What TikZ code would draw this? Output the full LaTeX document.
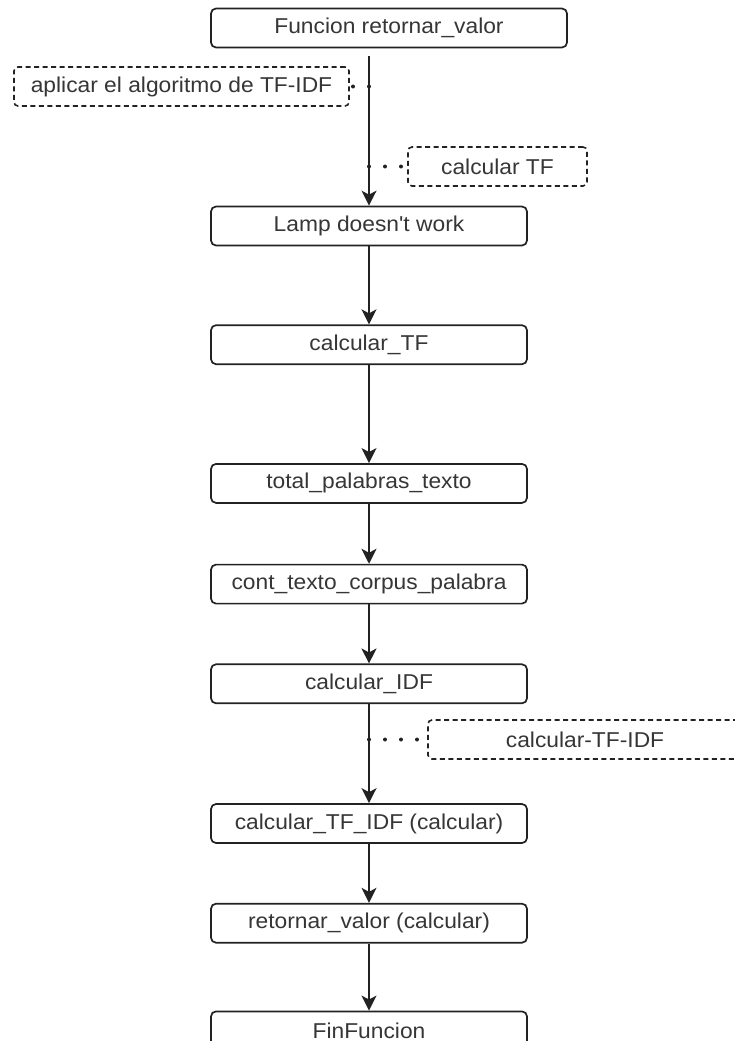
\documentclass[tikz,border=0pt]{standalone}
\usepackage{fontspec}
\newfontfamily\diafont[FakeStretch=1.06]{Liberation Sans}
\usepackage{xcolor}
\usepackage{tikz}
\usetikzlibrary{arrows.meta, positioning}
\definecolor{inkline}{HTML}{222222}
\definecolor{inktext}{HTML}{363636}
\tikzset{
  stepbox/.style={
    draw=inkline, rounded corners=5pt, line width=1.7pt, align=center,
    font=\diafont\fontsize{21.5}{25}\selectfont, text=inktext, fill=white,
    minimum width=316pt, minimum height=39pt, inner sep=2pt
  },
  notebox/.style={
    draw=inkline, rounded corners=4pt, line width=1.6pt,
    dash pattern=on 5pt off 3.5pt, align=center,
    font=\diafont\fontsize{21.5}{25}\selectfont, text=inktext, fill=white,
    minimum height=39pt, inner sep=2pt
  },
  flowarrow/.style={
    -{Stealth[length=15pt, width=15pt, inset=4pt]}, line width=1.7pt, color=inkline
  },
  noteline/.style={
    line width=4pt, line cap=round, dash pattern=on 0pt off 16pt, color=inkline
  },
}
\begin{document}
\begin{tikzpicture}[x=1pt, y=-1pt]
  \useasboundingbox (0,0) rectangle (734,1041);

  % ── Main flow ──
  \node[stepbox, minimum width=356pt] (inicio) at (389, 28) {Funcion retornar\_valor};

  \node[stepbox] (lamp) at (369, 226) {Lamp doesn't work};
  \node[stepbox, below=78pt of lamp] (calctf) {calcular\_TF};
  \node[stepbox, below=98pt of calctf] (totalpal) {total\_palabras\_texto};
  \node[stepbox, below=60pt of totalpal] (contcorpus) {cont\_texto\_corpus\_palabra};
  \node[stepbox, below=59pt of contcorpus] (calcidf) {calcular\_IDF};
  \node[stepbox, below=99pt of calcidf] (calctfidf) {calcular\_TF\_IDF (calcular)};
  \node[stepbox, below=59pt of calctfidf] (retvalor) {retornar\_valor (calcular)};
  \node[stepbox, below=67pt of retvalor] (fin) {FinFuncion};

  \draw[flowarrow, shorten <=8pt] (lamp.north |- inicio.south) -- (lamp.north);
  \draw[flowarrow] (lamp) -- (calctf);
  \draw[flowarrow] (calctf) -- (totalpal);
  \draw[flowarrow] (totalpal) -- (contcorpus);
  \draw[flowarrow] (contcorpus) -- (calcidf);
  \draw[flowarrow] (calcidf) -- (calctfidf);
  \draw[flowarrow] (calctfidf) -- (retvalor);
  \draw[flowarrow] (retvalor) -- (fin);

  % ── Notes ──
  \node[notebox, minimum width=335pt] (notaplicar) at (181.5, 86.5) {aplicar el algoritmo de TF-IDF};
  \node[notebox, minimum width=179pt] (notetf) at (497.5, 166.5) {calcular TF};
  \node[notebox, minimum width=314pt] (notetfidf) at (585, 739.5) {calcular-TF-IDF};

  \draw[noteline] (lamp.north |- notaplicar.east) -- (notaplicar.east);
  \draw[noteline] (lamp.north |- notetf.west) -- (notetf.west);
  \draw[noteline] (calcidf.south |- notetfidf.west) -- (notetfidf.west);
\end{tikzpicture}
\end{document}
